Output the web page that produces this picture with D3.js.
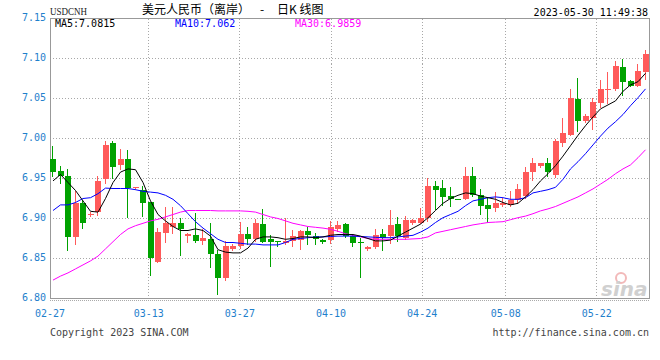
<!DOCTYPE html>
<html><head><meta charset="utf-8">
<script src="https://cdn.jsdelivr.net/npm/d3@7"></script>
<style>html,body{margin:0;padding:0;background:#fff;}svg{display:block;}</style>
</head><body>
<svg id="chart" width="660" height="360"></svg>
<script>
const dates = ["02-27","02-28","03-01","03-02","03-03","03-04","03-05","03-06","03-07","03-08","03-09","03-10","03-11",
 "03-13","03-14","03-15","03-16","03-17","03-18","03-20","03-21","03-22","03-23","03-24","03-25",
 "03-27","03-28","03-29","03-30","03-31","04-01","04-03","04-04","04-05","04-06","04-07","04-08",
 "04-10","04-11","04-12","04-13","04-14","04-15","04-17","04-18","04-19","04-20","04-21","04-22",
 "04-24","04-25","04-26","04-27","04-28","04-29","05-02","05-03","05-04","05-05","05-06",
 "05-08","05-09","05-10","05-11","05-12","05-13","05-15","05-16","05-17","05-18","05-19","05-20",
 "05-22","05-23","05-24","05-25","05-26","05-27","05-29","05-30"];
const open = [6.975,6.960,6.953,6.877,6.920,6.904,6.908,6.949,6.994,6.967,6.975,6.938,6.936,
 6.921,6.846,6.882,6.890,6.895,6.878,6.879,6.872,6.874,6.855,6.825,6.862,
 6.865,6.881,6.874,6.893,6.874,6.872,6.869,6.872,6.873,6.884,6.878,6.873,
 6.873,6.887,6.893,6.878,6.870,6.862,6.864,6.881,6.878,6.893,6.875,6.894,
 6.895,6.900,6.940,6.938,6.928,6.925,6.925,6.953,6.930,6.917,6.913,
 6.917,6.917,6.923,6.928,6.958,6.966,6.970,6.955,6.994,7.005,7.049,7.022,
 7.026,7.044,7.061,7.062,7.090,7.072,7.066,7.083];
const high = [6.991,6.966,6.962,6.935,6.923,6.908,6.953,6.997,6.997,6.987,6.986,6.939,6.941,
 6.921,6.888,6.914,6.914,6.900,6.882,6.907,6.887,6.894,6.860,6.872,6.868,
 6.896,6.890,6.899,6.912,6.880,6.872,6.900,6.886,6.886,6.890,6.882,6.874,
 6.897,6.897,6.895,6.880,6.875,6.865,6.887,6.887,6.910,6.902,6.903,6.899,
 6.913,6.951,6.947,6.948,6.939,6.925,6.964,6.965,6.937,6.926,6.933,
 6.926,6.935,6.943,6.965,6.976,6.970,6.976,7.000,7.025,7.062,7.076,7.030,
 7.051,7.073,7.083,7.097,7.100,7.073,7.093,7.110];
const low = [6.953,6.944,6.861,6.868,6.888,6.903,6.904,6.944,6.950,6.962,6.902,6.937,6.903,
 6.829,6.846,6.870,6.882,6.854,6.871,6.870,6.868,6.840,6.806,6.823,6.860,
 6.863,6.868,6.872,6.871,6.841,6.866,6.868,6.866,6.862,6.868,6.868,6.869,
 6.869,6.885,6.877,6.866,6.827,6.861,6.863,6.861,6.869,6.872,6.874,6.893,
 6.894,6.897,6.912,6.917,6.915,6.924,6.924,6.928,6.905,6.896,6.909,
 6.915,6.915,6.920,6.926,6.948,6.965,6.953,6.952,6.991,7.004,7.010,7.021,
 7.012,7.039,7.044,7.061,7.055,7.065,7.065,7.074];
const close = [6.958,6.953,6.877,6.920,6.894,6.906,6.947,6.992,6.965,6.974,6.938,6.939,6.919,
 6.851,6.883,6.894,6.895,6.887,6.881,6.872,6.875,6.855,6.825,6.866,6.866,
 6.881,6.874,6.894,6.871,6.871,6.871,6.872,6.878,6.884,6.880,6.874,6.871,
 6.890,6.892,6.878,6.869,6.869,6.864,6.880,6.876,6.892,6.878,6.898,6.898,
 6.900,6.940,6.936,6.927,6.924,6.924,6.953,6.930,6.916,6.912,6.919,
 6.919,6.923,6.937,6.958,6.970,6.969,6.958,6.997,7.007,7.051,7.022,7.028,
 7.046,7.062,7.062,7.091,7.070,7.066,7.085,7.105];
const ma5 = [6.947,6.955,6.945,6.935,6.922,6.909,6.908,6.925,6.945,6.958,6.962,6.961,6.945,
 6.922,6.905,6.897,6.890,6.885,6.885,6.887,6.885,6.878,6.861,6.858,6.857,
 6.857,6.863,6.874,6.877,6.877,6.876,6.874,6.875,6.877,6.877,6.876,6.877,
 6.879,6.880,6.880,6.880,6.878,6.875,6.872,6.872,6.873,6.878,6.883,6.888,
 6.893,6.901,6.910,6.919,6.925,6.929,6.932,6.931,6.928,6.926,6.924,
 6.920,6.917,6.919,6.927,6.936,6.947,6.956,6.966,6.978,6.991,7.004,7.016,
 7.027,7.037,7.042,7.047,7.059,7.067,7.071,7.0815];
const ma10 = [6.910,6.917,6.917,6.920,6.925,6.926,6.931,6.938,6.9375,6.9375,6.9375,6.936,6.934,
 6.933,6.932,6.929,6.924,6.916,6.906,6.896,6.888,6.881,6.874,6.870,6.870,
 6.869,6.868,6.868,6.867,6.867,6.867,6.870,6.874,6.875,6.876,6.877,6.877,
 6.8775,6.878,6.878,6.878,6.8775,6.877,6.8765,6.876,6.876,6.877,6.878,6.879,
 6.883,6.888,6.895,6.901,6.905,6.909,6.916,6.922,6.924,6.926,6.927,
 6.926,6.924,6.924,6.926,6.932,6.934,6.936,6.939,6.949,6.962,6.971,6.981,
 6.992,7.003,7.013,7.021,7.030,7.041,7.051,7.062];
const ma30 = [6.823,6.828,6.832,6.837,6.842,6.847,6.853,6.862,6.871,6.880,6.887,6.891,6.894,
 6.897,6.899,6.902,6.905,6.908,6.910,6.910,6.910,6.910,6.9095,6.9095,6.9095,
 6.9095,6.909,6.908,6.905,6.902,6.900,6.897,6.894,6.892,6.890,6.889,6.888,
 6.8865,6.884,6.881,6.879,6.877,6.875,6.874,6.874,6.874,6.874,6.874,6.8745,
 6.875,6.877,6.882,6.884,6.886,6.888,6.890,6.892,6.8935,6.895,6.8955,
 6.896,6.8985,6.901,6.903,6.906,6.9095,6.912,6.915,6.919,6.923,6.927,6.932,
 6.937,6.943,6.949,6.956,6.962,6.967,6.976,6.9859];
const yTicks = [6.80, 6.85, 6.90, 6.95, 7.00, 7.05, 7.10, 7.15];
const xTicks = ["02-27","03-13","03-27","04-10","04-24","05-08","05-22"];
const maNames = ["MA5","MA10","MA30"];
const maLast = ["7.0815","7.062","6.9859"];
const symbol = "USDCNH";
const titleParts = ["美元人民币（离岸）", "-", "日K 线图"];
const stamp = "2023-05-30 11:49:38";

const W = 660, H = 360;
const L = 50, R = 650, T = 18.5, B = 298.5;
const RED = "#ff5a5a", GREEN = "#00a200";
const AXIS_BLUE = "#1f80cc";
const mono = "'DejaVu Sans Mono', monospace";

const svg = d3.select("#chart");
svg.append("rect").attr("width", W).attr("height", H).attr("fill", "#fff");

const x = d3.scaleBand().domain(dates).range([L, R]).paddingInner(0).paddingOuter(0);
const gx = d3.scalePoint().domain(dates).range([L, R]);
const y = d3.scaleLinear().domain([6.80, 7.15]).range([B, T]);

// grid
const grid = svg.append("g").attr("shape-rendering", "crispEdges");
grid.selectAll("line.h").data(yTicks.filter(v => v > 6.80 && v < 7.15)).join("line")
  .attr("x1", L).attr("x2", R).attr("y1", d => y(d)).attr("y2", d => y(d))
  .attr("stroke", "#a8a8a8").attr("stroke-dasharray", "1,2");
grid.selectAll("line.v").data(xTicks.slice(1)).join("line")
  .attr("x1", d => Math.floor(gx(d)) + 0.5).attr("x2", d => Math.floor(gx(d)) + 0.5)
  .attr("y1", T).attr("y2", B + 2)
  .attr("stroke", "#a8a8a8").attr("stroke-dasharray", "1,2");

// frame
const frame = svg.append("g").attr("shape-rendering", "crispEdges").attr("stroke", "#999").attr("fill", "none");
frame.append("rect").attr("x", L + 0.5).attr("y", T).attr("width", R - L - 1).attr("height", B - T);
frame.append("line").attr("x1", L).attr("x2", R).attr("y1", B + 2).attr("y2", B + 2)
  .attr("stroke", "#aaa").attr("stroke-dasharray", "1,1");

// y axis labels
svg.append("g").selectAll("text").data(yTicks).join("text")
  .attr("x", 46).attr("y", d => y(d) + 2.5).attr("text-anchor", "end")
  .attr("font-family", mono).attr("font-size", 10).attr("fill", AXIS_BLUE)
  .text(d => d.toFixed(2));

// x axis labels
svg.append("g").selectAll("text").data(xTicks).join("text")
  .attr("x", d => gx(d)).attr("y", 317).attr("text-anchor", "middle")
  .attr("font-family", mono).attr("font-size", 10).attr("fill", AXIS_BLUE)
  .text(d => d);

// watermark logo
const logo = svg.append("g");
logo.append("circle").attr("cx", 621).attr("cy", 278).attr("r", 5)
  .attr("fill", "none").attr("stroke", "#f2b9b9").attr("stroke-width", 2);
logo.append("text").attr("x", 601).attr("y", 296).attr("font-family", "'DejaVu Sans', sans-serif")
  .attr("font-weight", "bold").attr("font-style", "italic").attr("font-size", 20)
  .attr("fill", "#d0d0d0").text("sina");

// candles
const data = dates.map((d, i) => ({d, o: open[i], h: high[i], l: low[i], c: close[i]}));
const cg = svg.append("g").attr("shape-rendering", "crispEdges");
const bx = d => Math.round(x(d.d));
cg.selectAll("line").data(data).join("line")
  .attr("x1", d => bx(d) + 2.5).attr("x2", d => bx(d) + 2.5)
  .attr("y1", d => Math.round(y(d.h))).attr("y2", d => Math.round(y(d.l)) + 1)
  .attr("stroke", d => d.c >= d.o ? RED : GREEN);
cg.selectAll("rect").data(data).join("rect")
  .attr("x", d => bx(d)).attr("width", 6)
  .attr("y", d => Math.round(y(Math.max(d.o, d.c))))
  .attr("height", d => Math.max(1, Math.round(y(Math.min(d.o, d.c))) - Math.round(y(Math.max(d.o, d.c)))))
  .attr("fill", d => d.c >= d.o ? RED : GREEN);

// moving averages
const line = d3.line().x((v, i) => x(dates[i]) + 3).y(v => y(v));
[[ma30, "#ff00ff"], [ma10, "#0000ff"], [ma5, "#000000"]].forEach(([arr, col]) => {
  svg.append("path").datum(arr).attr("d", line).attr("fill", "none")
    .attr("stroke", col).attr("stroke-width", 1);
});

// header
svg.append("text").attr("x", 50).attr("y", 15).attr("font-family", "'Liberation Serif', serif")
  .attr("font-size", 11).attr("fill", "#222").attr("textLength", 37).attr("lengthAdjust", "spacingAndGlyphs")
  .text(symbol);
const title = svg.append("text").attr("y", 14).attr("font-family", "'Noto Sans CJK SC', sans-serif")
  .attr("font-size", 12).attr("fill", "#000");
const titleX = [142, 260, 277];
titleParts.forEach((t, i) => title.append("tspan").attr("x", titleX[i]).text(t));
svg.append("text").attr("x", 648).attr("y", 15.5).attr("text-anchor", "end")
  .attr("font-family", mono).attr("font-size", 10).attr("fill", "#000").text(stamp);

const legendColors = ["#000000", "#0000ff", "#ff00ff"];
const legendX = [55, 175, 295];
svg.append("g").selectAll("text").data(maNames).join("text")
  .attr("x", (d, i) => legendX[i]).attr("y", 27)
  .attr("font-family", mono).attr("font-size", 10).attr("fill", (d, i) => legendColors[i])
  .text((d, i) => d + ":" + maLast[i]);

// footer
svg.append("text").attr("x", 50).attr("y", 336).attr("font-family", mono).attr("font-size", 10)
  .attr("fill", "#444").text("Copyright 2023 SINA.COM");
svg.append("text").attr("x", 649).attr("y", 336).attr("text-anchor", "end").attr("font-family", mono)
  .attr("font-size", 10).attr("fill", "#444").text("http://finance.sina.com.cn");
</script>
</body></html>
